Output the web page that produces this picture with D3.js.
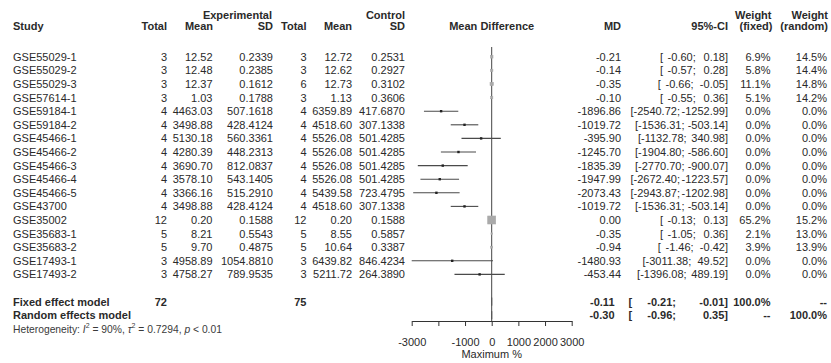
<!DOCTYPE html>
<html><head><meta charset="utf-8">
<script src="https://cdn.jsdelivr.net/npm/d3@7"></script>
<style>
body{margin:0;background:#fff;}
svg text{font-family:"Liberation Sans",Arial,sans-serif;fill:#2a2a2a;}
</style></head><body>
<svg id="c" width="831" height="363"></svg>
<script>
// ---------- data ----------
const studies = ["GSE55029-1","GSE55029-2","GSE55029-3","GSE57614-1","GSE59184-1","GSE59184-2","GSE45466-1","GSE45466-2","GSE45466-3","GSE45466-4","GSE45466-5","GSE43700","GSE35002","GSE35683-1","GSE35683-2","GSE17493-1","GSE17493-2"];
const expTotal = [3,3,3,3,4,4,4,4,4,4,4,4,12,5,5,3,3];
const expMean = [12.52,12.48,12.37,1.03,4463.03,3498.88,5130.18,4280.39,3690.70,3578.10,3366.16,3498.88,0.20,8.21,9.70,4958.89,4758.27];
const expSD = [0.2339,0.2385,0.1612,0.1788,507.1618,428.4124,560.3361,448.2313,812.0837,543.1405,515.2910,428.4124,0.1588,0.5543,0.4875,1054.8810,789.9535];
const ctlTotal = [3,3,6,3,4,4,4,4,4,4,4,4,12,5,5,3,3];
const ctlMean = [12.72,12.62,12.73,1.13,6359.89,4518.60,5526.08,5526.08,5526.08,5526.08,5439.58,4518.60,0.20,8.55,10.64,6439.82,5211.72];
const ctlSD = [0.2531,0.2927,0.3102,0.3606,417.6870,307.1338,501.4285,501.4285,501.4285,501.4285,723.4795,307.1338,0.1588,0.5857,0.3387,846.4234,264.3890];
const md = [-0.21,-0.14,-0.35,-0.10,-1896.86,-1019.72,-395.90,-1245.70,-1835.39,-1947.99,-2073.43,-1019.72,0.00,-0.35,-0.94,-1480.93,-453.44];
const ciLower = [-0.60,-0.57,-0.66,-0.55,-2540.72,-1536.31,-1132.78,-1904.80,-2770.70,-2672.40,-2943.87,-1536.31,-0.13,-1.05,-1.46,-3011.38,-1396.08];
const ciUpper = [0.18,0.28,-0.05,0.36,-1252.99,-503.14,340.98,-586.60,-900.07,-1223.57,-1202.98,-503.14,0.13,0.36,-0.42,49.52,489.19];
const weightFixed = [6.9,5.8,11.1,5.1,0,0,0,0,0,0,0,0,65.2,2.1,3.9,0,0];
const weightRandom = [14.5,14.4,14.8,14.2,0,0,0,0,0,0,0,0,15.2,13.0,13.9,0,0];

const summaryLabels = ["Fixed effect model","Random effects model"];
const summaryTotals = [72,75];
const summaryMD = [-0.11,-0.30];
const summaryLower = [-0.21,-0.96];
const summaryUpper = [-0.01,0.35];
const summaryWeightFixed = ["100.0%","--"];
const summaryWeightRandom = ["--","100.0%"];

const axisTicks = [-3000,-2000,-1000,0,1000,2000,3000];
const axisTickLabels = ["-3000","","-1000","0","1000","2000","3000"];
const axisTitle = "Maximum %";

// ---------- layout ----------
const svg = d3.select("#c");
const FS = 11;
const x = d3.scaleLinear().domain([-3000,3000]).range([411.7,571.7]);
const y = d3.scaleLinear().domain([0,20]).range([56.8,56.8+20*13.6]);
const axisY = 321;

const cols = {study:13, eT:167, eM:212.5, eSD:273, cT:306.5, cM:352, cSD:405, md:621, ci:728, wF:770.5, wR:827};

function txt(xp, yp, s, anchor, bold, size){
  return svg.append("text").attr("x",xp).attr("y",yp).attr("dominant-baseline","central")
    .attr("text-anchor",anchor||"start").attr("font-size",size||FS)
    .attr("font-weight",bold?"bold":"normal").text(s);
}

// headers
const h1 = 14.5, h2 = 26;
txt(272,h1,"Experimental","end",true);
txt(cols.cSD,h1,"Control","end",true);
txt(771.5,h1,"Weight","end",true);
txt(828,h1,"Weight","end",true);
txt(cols.study,h2,"Study","start",true);
txt(cols.eT,h2,"Total","end",true);
txt(213,h2,"Mean","end",true);
txt(cols.eSD,h2,"SD","end",true);
txt(cols.cT,h2,"Total","end",true);
txt(cols.cM,h2,"Mean","end",true);
txt(cols.cSD,h2,"SD","end",true);
txt(x(0),h2,"Mean Difference","middle",true);
txt(cols.md,h2,"MD","end",true);
txt(cols.ci,h2,"95%-CI","end",true);
txt(772.5,h2,"(fixed)","end",true);
txt(828,h2,"(random)","end",true);

const pad = (s,n)=>s.padStart(n," ");
function ciString(lo,hi){ return "[" + pad(lo.toFixed(2),8) + "; " + pad(hi.toFixed(2),8) + "]"; }

// study rows
studies.forEach((s,i)=>{
  const yy = y(i);
  txt(cols.study,yy,s);
  txt(cols.eT,yy,expTotal[i],"end");
  txt(cols.eM,yy,expMean[i].toFixed(2),"end");
  txt(cols.eSD,yy,expSD[i].toFixed(4),"end");
  txt(cols.cT,yy,ctlTotal[i],"end");
  txt(cols.cM,yy,ctlMean[i].toFixed(2),"end");
  txt(cols.cSD,yy,ctlSD[i].toFixed(4),"end");
  txt(cols.md,yy,md[i].toFixed(2),"end");
  txt(cols.ci,yy,ciString(ciLower[i],ciUpper[i]),"end")
    .attr("xml:space","preserve").style("white-space","pre").style("word-spacing","-1.5px");
  txt(cols.wF,yy,weightFixed[i].toFixed(1)+"%","end");
  txt(cols.wR,yy,weightRandom[i].toFixed(1)+"%","end");
});

// summary rows
summaryLabels.forEach((s,k)=>{
  const yy = y(18+k);
  txt(cols.study,yy,s,"start",true);
  if(k===0){
    txt(cols.eT,yy,summaryTotals[0],"end",true);
    txt(cols.cT,yy,summaryTotals[1],"end",true);
  }
  txt(614.5,yy,summaryMD[k].toFixed(2),"end",true);
  txt(628.5,yy,"[","start",true);
  txt(676,yy,summaryLower[k].toFixed(2)+";","end",true);
  txt(cols.ci,yy,summaryUpper[k].toFixed(2)+"]","end",true);
  txt(cols.wF,yy,summaryWeightFixed[k],"end",true);
  txt(cols.wR,yy,summaryWeightRandom[k],"end",true);
});

// heterogeneity
const het = svg.append("text").attr("x",cols.study).attr("y",y(20)).attr("dominant-baseline","central")
  .attr("font-size",10.3).style("fill","#3a3a3a");
het.append("tspan").text("Heterogeneity: ");
het.append("tspan").attr("font-style","italic").text("I");
het.append("tspan").attr("font-size",7).attr("dy",-4).text("2");
het.append("tspan").attr("dy",4).text(" = 90%, ");
het.append("tspan").attr("font-style","italic").text("\u03c4");
het.append("tspan").attr("font-size",7).attr("dy",-4).text("2");
het.append("tspan").attr("dy",4).text(" = 0.7294, ");
het.append("tspan").attr("font-style","italic").text("p");
het.append("tspan").text(" < 0.01");

// reference line
svg.append("line").attr("x1",x(0)).attr("x2",x(0)).attr("y1",47).attr("y2",axisY)
  .attr("stroke","#444").attr("stroke-width",1);

// CI lines and squares
const maxW = d3.max(weightFixed);
studies.forEach((s,i)=>{
  const yy = y(i);
  const lo = Math.max(ciLower[i], x.domain()[0]), hi = Math.min(ciUpper[i], x.domain()[1]);
  svg.append("line").attr("x1",x(lo)).attr("x2",x(hi)).attr("y1",yy).attr("y2",yy)
    .attr("stroke","#4a4a4a").attr("stroke-width",1.1);
  const w = weightFixed[i];
  if(w>0){
    const side = 8*Math.sqrt(w/maxW);
    svg.append("rect").attr("x",x(md[i])-side/2).attr("y",yy-side/2).attr("width",side).attr("height",side)
      .attr("fill","#aaa").attr("stroke","#aaa").attr("stroke-width",0.6);
  } else {
    svg.append("rect").attr("x",x(md[i])-1.2).attr("y",yy-1.2).attr("width",2.4).attr("height",2.4)
      .attr("fill","#222");
  }
});

// diamonds
summaryLabels.forEach((s,k)=>{
  const yy = y(18+k);
  const pts = [[x(summaryLower[k]),yy],[x(summaryMD[k]),yy-4],[x(summaryUpper[k]),yy],[x(summaryMD[k]),yy+4]];
  svg.append("polygon").attr("points",pts.map(p=>p.join(",")).join(" "))
    .attr("fill","#999").attr("stroke","#555").attr("stroke-width",0.8);
});

// axis
const ax = svg.append("g").attr("transform",`translate(0,${axisY})`)
  .call(d3.axisBottom(x).tickValues(axisTicks).tickFormat((d,i)=>axisTickLabels[i])
    .tickSize(5).tickSizeOuter(0).tickPadding(12));
ax.select(".domain").attr("stroke","#333");
ax.selectAll(".tick line").attr("stroke","#333");
ax.selectAll(".tick text").attr("font-size",FS).attr("font-family","Liberation Sans, Arial, sans-serif").style("fill","#2a2a2a");
txt(x(0),354,axisTitle,"middle",false);
</script>
</body></html>
